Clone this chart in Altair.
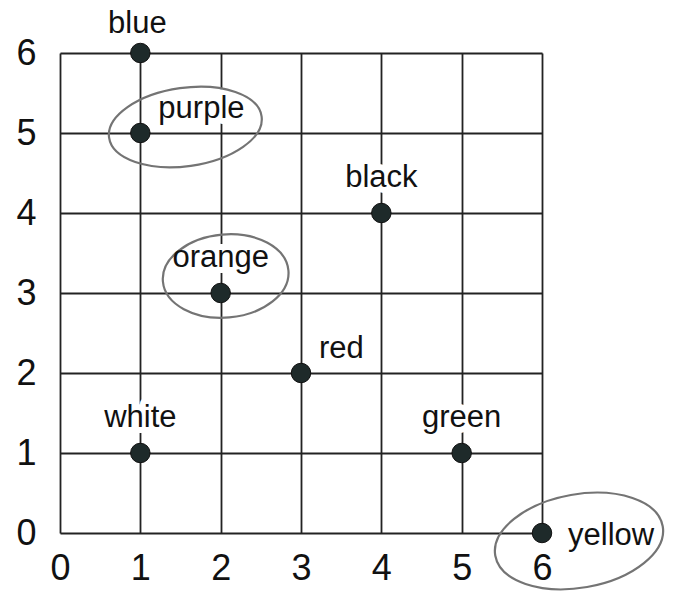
import altair as alt
import pandas as pd

# ---- data ----
names = ["blue", "purple", "black", "orange", "red", "white", "green", "yellow"]
x_vals = [1, 1, 4, 2, 3, 1, 5, 6]
y_vals = [6, 5, 4, 3, 2, 1, 1, 0]
placements = ["above-top", "upper-right", "above", "above", "upper-right", "above", "above", "right"]
tick_values = [0, 1, 2, 3, 4, 5, 6]
circled = ["purple", "orange", "yellow"]

df = pd.DataFrame({"name": names, "x": x_vals, "y": y_vals, "placement": placements})

FONT = "Liberation Sans"
INK = "#111111"

xscale = alt.Scale(domain=[0, 6], nice=False, zero=False)
yscale = alt.Scale(domain=[0, 6], nice=False, zero=False)

common_axis = dict(
    values=tick_values, title=None, domain=False, ticks=False, grid=True,
    gridColor="#222222", gridWidth=1.8, gridOpacity=1,
    labelFontSize=36, labelFont=FONT, labelColor=INK, labelFlush=False,
    format="d",
)

base = alt.Chart(df).encode(
    x=alt.X("x:Q", scale=xscale, axis=alt.Axis(labelPadding=18, **common_axis)),
    y=alt.Y("y:Q", scale=yscale, axis=alt.Axis(labelPadding=24, **common_axis)),
)


def ellipse_path(r):
    k = 0.5523
    return (
        f"M -1 0 C -1 {-k*r:.4f} {-k:.4f} {-r:.4f} 0 {-r:.4f} "
        f"C {k:.4f} {-r:.4f} 1 {-k*r:.4f} 1 0 "
        f"C 1 {k*r:.4f} {k:.4f} {r:.4f} 0 {r:.4f} "
        f"C {-k:.4f} {r:.4f} -1 {k*r:.4f} -1 0 Z"
    )


def loop(name, width, ratio, dx, dy, angle):
    return base.transform_filter(alt.datum.name == name).mark_point(
        shape=ellipse_path(ratio), size=width * width, filled=False,
        stroke="#747474", strokeWidth=2.2, opacity=1,
        xOffset=dx, yOffset=dy, angle=angle,
    )


label_styles = {
    "above-top": dict(align="center", dx=-3, dy=-20),
    "above": dict(align="center", dx=0, dy=-26),
    "upper-right": dict(align="left", dx=18, dy=-15),
    "right": dict(align="left", dx=26, dy=12),
}
# white halo behind labels that sit on the grid lines
halo_keys = ["above", "upper-right", "right"]

halo_layers = []
text_layers = []
for key, st in label_styles.items():
    sub = base.transform_filter(alt.datum.placement == key)
    if key in halo_keys:
        halo_layers.append(
            sub.mark_text(font=FONT, fontSize=31, baseline="alphabetic", color="white",
                          stroke="white", strokeWidth=12, strokeJoin="round", **st)
            .encode(text="name:N")
        )
    text_layers.append(
        sub.mark_text(font=FONT, fontSize=31, baseline="alphabetic", color=INK, **st)
        .encode(text="name:N")
    )

loops = [
    loop(circled[0], 154, 0.51, 45, -6, 352),
    loop(circled[1], 126, 0.66, 5, -17, 355),
    loop(circled[2], 170, 0.55, 37, 8, 350),
]

points = base.mark_point(filled=True, size=380, fill="#1e2a2a", stroke=INK,
                         strokeWidth=1, opacity=1)

chart = alt.layer(*halo_layers, *loops, points, *text_layers).properties(
    width=482, height=480,
    autosize=alt.AutoSizeParams(type="none"),
    padding={"left": 52, "top": 45, "right": 128, "bottom": 60},
).configure_view(stroke=None).configure(background="white")

chart.save("out.html", embed_options={"renderer": "svg", "actions": False})
